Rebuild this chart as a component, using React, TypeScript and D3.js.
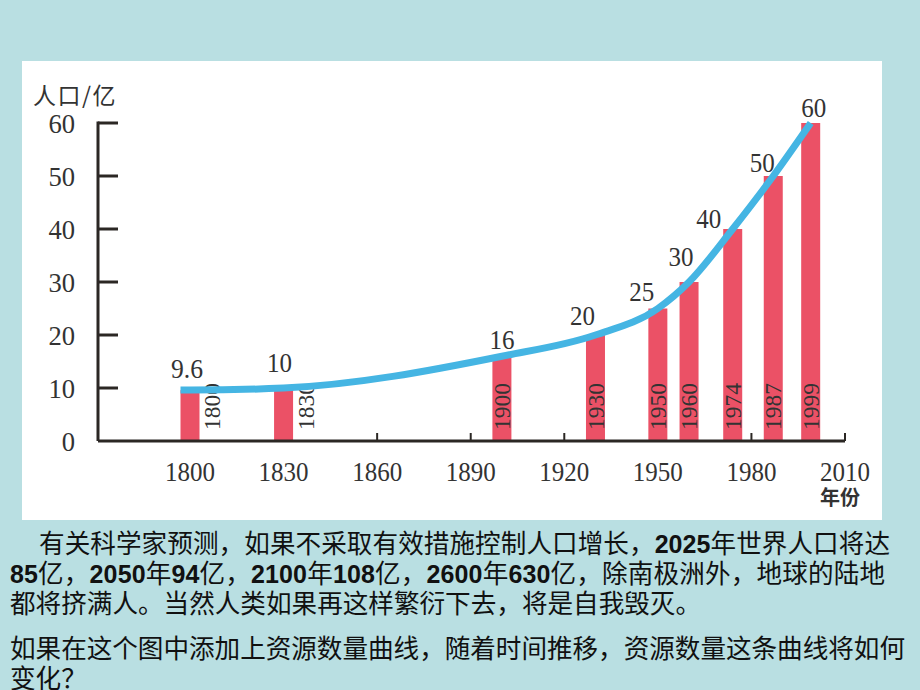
import React from "react";
import * as d3 from "d3";

// ---- data ----
const years = [1800, 1830, 1900, 1930, 1950, 1960, 1974, 1987, 1999];
const population = [9.6, 10, 16, 20, 25, 30, 40, 50, 60];
const valueLabels = ["9.6", "10", "16", "20", "25", "30", "40", "50", "60"];
const xTicks = [1800, 1830, 1860, 1890, 1920, 1950, 1980, 2010];
const yTicks = [0, 10, 20, 30, 40, 50, 60];
const yTitle = "人口/亿";
const xTitle = "年份";

type Seg = [string, boolean];
const paragraphLines: Seg[][] = [
  [["有关科学家预测，如果不采取有效措施控制人口增长，", false], ["2025", true], ["年世界人口将达", false]],
  [["85", true], ["亿，", false], ["2050", true], ["年", false], ["94", true], ["亿，", false], ["2100", true], ["年", false], ["108", true], ["亿，", false], ["2600", true], ["年", false], ["630", true], ["亿，除南极洲外，地球的陆地", false]],
  [["都将挤满人。当然人类如果再这样繁衍下去，将是自我毁灭。", false]],
  [["如果在这个图中添加上资源数量曲线，随着时间推移，资源数量这条曲线将如何", false]],
  [["变化？", false]],
];

// ---- layout (not data) ----
const W = 920, H = 690;
const labelNudge: [number, number][] = [
  [-3, -12], [-4, -16], [0, -7], [-13, -10], [-16, -8], [-8, -16], [-24, -1], [-11, -4], [3, -6],
];
const textLayout = [
  { x: 39, y: 553, len: 851 },
  { x: 10, y: 583, len: 875 },
  { x: 10, y: 613, len: 0 },
  { x: 10, y: 658, len: 895 },
  { x: 10, y: 688, len: 0 },
];

const serif = "'Liberation Serif', 'Times New Roman', serif";
const cjk = "'Noto Sans CJK SC', sans-serif";
const ink = "#2b2724";
const digitW = 12.5;

export default function App() {
  const x = d3.scaleLinear().domain([1800, 2010]).range([190, 845]);
  const y = d3.scaleLinear().domain([0, 60]).range([441, 123]);
  const barW = 19;
  const axisX = 98;

  const pts: [number, number][] = years.map((yr, i) => [x(yr), y(population[i])]);
  const linePts: [number, number][] = [[x(years[0]) - barW / 2, y(population[0])], ...pts];
  const line = d3.line<[number, number]>().x(d => d[0]).y(d => d[1]).curve(d3.curveMonotoneX);

  return (
    <div style={{ position: "absolute", left: 0, top: 0 }}>
      <svg width={W} height={H} style={{ display: "block" }}>
        <rect x={0} y={0} width={W} height={H} fill="#b9dfe2" />
        <rect x={22} y={61} width={860} height={459} fill="#ffffff" />

        {/* y title */}
        <text x={33} y={104} fontFamily={cjk} fontSize={23} letterSpacing={1.5} fill="#333">{yTitle}</text>

        {/* y axis */}
        <line x1={axisX} x2={axisX} y1={y(60) - 1.5} y2={y(0)} stroke={ink} strokeWidth={3} />
        {yTicks.map(t => {
          const s = String(t);
          return (
            <g key={t}>
              {t > 0 && <line x1={axisX} x2={axisX + 20} y1={y(t)} y2={y(t)} stroke={ink} strokeWidth={3} />}
              <text x={75} y={y(t)} dy="0.36em" textAnchor="end" fontFamily={serif} fontSize={28}
                textLength={s.length * 13.3} lengthAdjust="spacingAndGlyphs" fill="#333">{s}</text>
            </g>
          );
        })}

        {/* x axis ticks */}
        {xTicks.map(t => (
          <g key={t}>
            <line x1={x(t)} x2={x(t)} y1={y(0)} y2={y(0) - 8} stroke={ink} strokeWidth={2} />
            <text x={x(t)} y={481} textAnchor="middle" fontFamily={serif} fontSize={28}
              textLength={4 * digitW} lengthAdjust="spacingAndGlyphs" fill="#333">{t}</text>
          </g>
        ))}
        <text x={840} y={505} textAnchor="middle" fontFamily={cjk} fontSize={20} fontWeight={700} fill="#333">{xTitle}</text>

        {/* bars */}
        {years.map((yr, i) => (
          <rect key={yr} x={x(yr) - barW / 2} y={y(population[i])} width={barW} height={y(0) - y(population[i])} fill="#eb5166" />
        ))}

        {/* x axis line */}
        <line x1={axisX} x2={x(2010)} y1={y(0)} y2={y(0)} stroke={ink} strokeWidth={3} />

        {/* vertical year labels */}
        {years.map((yr, i) => {
          const h = y(0) - y(population[i]);
          const cx = h > 60 ? x(yr) : x(yr) + 22;
          return (
            <text key={yr} transform={`translate(${cx},${y(0) - 11}) rotate(-90)`} dy="0.35em" fontFamily={serif} fontSize={23}
              textLength={47} lengthAdjust="spacingAndGlyphs" fill="#333">{yr}</text>
          );
        })}

        {/* curve */}
        <path d={line(linePts) || ""} fill="none" stroke="#45b5e3" strokeWidth={7} strokeLinecap="butt" />

        {/* value labels */}
        {years.map((yr, i) => (
          <text key={yr} x={x(yr) + labelNudge[i][0]} y={y(population[i]) + labelNudge[i][1]} textAnchor="middle" fontFamily={serif} fontSize={27}
            textLength={valueLabels[i].length === 3 ? 32 : 25} lengthAdjust="spacingAndGlyphs" fill="#333">{valueLabels[i]}</text>
        ))}

        {/* paragraph */}
        {paragraphLines.map((segs, li) => {
          const L = textLayout[li];
          const extra = L.len ? { textLength: L.len, lengthAdjust: "spacing" } : {};
          return (
            <text key={li} x={L.x} y={L.y} fontFamily={cjk} fontSize={25.6} fill="#111" {...extra}>
              {segs.map(([s, b], k) => (
                <tspan key={k} fontFamily={b ? "'Liberation Sans Narrow', 'Liberation Sans', Arial, sans-serif" : cjk} fontWeight={b ? 700 : 400} fontSize={b ? 25 : 25.6}>{s}</tspan>
              ))}
            </text>
          );
        })}
      </svg>
    </div>
  );
}
